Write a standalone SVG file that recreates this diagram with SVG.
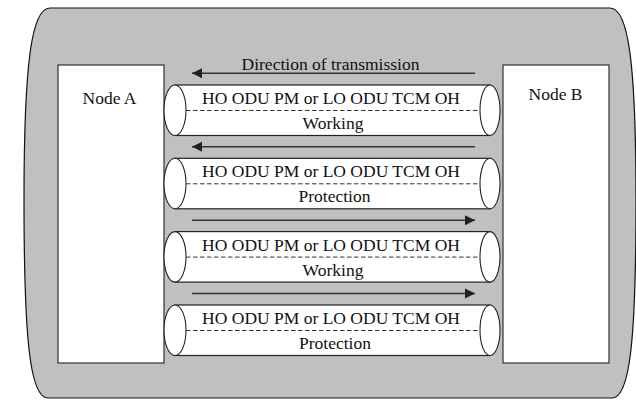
<svg xmlns="http://www.w3.org/2000/svg" width="636" height="400" viewBox="0 0 636 400">
  <defs>
    <style>
      .lbl { font-family: "Liberation Serif", "Times New Roman", serif; font-size: 17.5px; fill: #111; text-anchor: middle; }
      .node { fill: #fff; stroke: #333; stroke-width: 1.2; }
      .tube { fill: #fff; stroke: #222; stroke-width: 1.2; }
      .cap { fill: #fff; stroke: #222; stroke-width: 1.1; }
      .dash { fill: none; stroke: #333; stroke-width: 1; stroke-dasharray: 4.5 2.5; }
      .flow { fill: none; stroke: #333; stroke-width: 1.6; }
    </style>
    <marker id="head" markerUnits="userSpaceOnUse" markerWidth="12" markerHeight="12" viewBox="0 0 12 12" refX="11" refY="6" orient="auto">
      <path d="M1,1 L11,6 L1,11 Z" fill="#222"/>
    </marker>
    <g id="pipe">
      <rect class="tube" x="175" y="0" width="315" height="50.5"/>
      <ellipse class="cap" cx="490" cy="25.25" rx="10" ry="25.25"/>
      <ellipse class="cap" cx="175" cy="25.25" rx="11" ry="25.25"/>
      <line class="dash" x1="186" y1="25.5" x2="480" y2="25.5"/>
      <text class="lbl" x="331" y="19">HO ODU PM or LO ODU TCM OH</text>
    </g>
  </defs>

  <!-- network domain boundary -->
  <path id="domain" d="M50,8 H610 C628,8 636,60 636,200 C636,340 630,398 612,398 H48 C30,398 24,340 24,200 C24,60 32,8 50,8 Z" fill="#c0c0c0" stroke="#111" stroke-width="1.2"/>

  <g id="node-a">
    <rect class="node" x="58" y="65" width="106" height="298"/>
    <text class="lbl" x="109.5" y="104">Node A</text>
  </g>
  <g id="node-b">
    <rect class="node" x="503" y="65" width="106" height="298"/>
    <text class="lbl" x="555.5" y="99.5">Node B</text>
  </g>

  <text id="direction" class="lbl" x="330.5" y="70">Direction of transmission</text>

  <g id="connection-1">
    <use href="#pipe" y="85"/>
    <text class="lbl" x="333" y="129">Working</text>
  </g>
  <g id="connection-2">
    <use href="#pipe" y="158.3"/>
    <text class="lbl" x="334.5" y="202.3">Protection</text>
  </g>
  <g id="connection-3">
    <use href="#pipe" y="231.6"/>
    <text class="lbl" x="333" y="275.6">Working</text>
  </g>
  <g id="connection-4">
    <use href="#pipe" y="305"/>
    <text class="lbl" x="335" y="348.5">Protection</text>
  </g>

  <g id="connectors">
    <line class="flow" x1="475" y1="73.3" x2="192" y2="73.3" marker-end="url(#head)"/>
    <line class="flow" x1="475" y1="146.7" x2="192" y2="146.7" marker-end="url(#head)"/>
    <line class="flow" x1="192" y1="220.3" x2="475" y2="220.3" marker-end="url(#head)"/>
    <line class="flow" x1="192" y1="293.5" x2="475" y2="293.5" marker-end="url(#head)"/>
  </g>
</svg>
